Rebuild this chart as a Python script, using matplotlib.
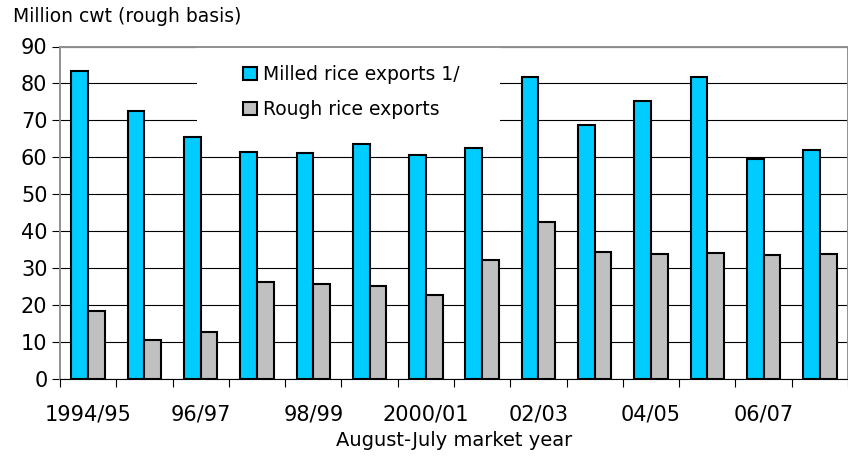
import numpy as np
import matplotlib
matplotlib.use("Agg")
import matplotlib.pyplot as plt
from matplotlib.patches import Rectangle

plt.rcParams['font.family'] = ['DejaVu Sans']

# August-July market years, 1994/95 through 2007/08
years = ['1994/95', '95/96', '96/97', '97/98', '98/99', '99/00', '2000/01',
         '01/02', '02/03', '03/04', '04/05', '05/06', '06/07', '07/08']
milled = [83.4, 72.5, 65.5, 61.5, 61.1, 63.6, 60.5,
          62.4, 81.8, 68.8, 75.2, 81.7, 59.5, 62.0]
rough = [18.5, 10.6, 12.6, 26.2, 25.8, 25.2, 22.7,
         32.1, 42.6, 34.3, 33.8, 34.1, 33.5, 33.9]
shown_labels = ['1994/95', '96/97', '98/99', '2000/01', '02/03', '04/05', '06/07']

W, H = 848, 458
fig = plt.figure(figsize=(W / 100, H / 100), dpi=100)
ax = fig.add_axes([60 / W, 1 - 379 / H, 788 / W, (379 - 46.5) / H])

x = np.arange(len(years))
bw = 0.296
ax.bar(x - bw / 2, milled, bw, color='#00CCFF', edgecolor='black', linewidth=1.5,
       label='Milled rice exports 1/', zorder=3)
ax.bar(x + bw / 2, rough, bw, color='#C0C0C0', edgecolor='black', linewidth=1.5,
       label='Rough rice exports', zorder=3)

ax.set_xlim(-0.5, len(years) - 0.5)
ax.set_ylim(0, 90)
ax.set_yticks(np.arange(0, 91, 10))
ax.yaxis.grid(True, color='black', linewidth=0.8)
ax.set_axisbelow(True)

# boundaries between years get the tick marks, every other year gets a label
ax.set_xticks(np.arange(-0.5, len(years), 1))
ax.set_xticklabels([])
ax.set_xticks([years.index(s) for s in shown_labels], minor=True)
ax.set_xticklabels(shown_labels, minor=True)
ax.tick_params(axis='x', which='major', length=6, width=0.8, direction='out')
ax.tick_params(axis='x', which='minor', length=0, pad=18, labelsize=15)
ax.tick_params(axis='y', length=6, width=0.8, direction='out', labelsize=15, pad=3)

for side in ('left', 'top', 'right'):
    ax.spines[side].set_color('#909090')
    ax.spines[side].set_linewidth(1.4)
ax.spines['bottom'].set_color('black')
ax.spines['bottom'].set_linewidth(0.8)

ax.set_xlabel('August-July market year', fontsize=14, labelpad=5)
fig.text(13 / W, 1 - 16 / H, 'Million cwt (rough basis)', fontsize=13.5, va='center')

# white area behind the legend hides the gridlines there
ax.add_patch(Rectangle((197 / W, 1 - 135 / H), 303 / W, 88 / H,
                       transform=fig.transFigure, facecolor='white',
                       edgecolor='none', zorder=1))

leg = ax.legend(loc='upper left', bbox_to_anchor=(243 / W, 1 - 65 / H),
                bbox_transform=fig.transFigure, fontsize=13.5, frameon=False,
                handlelength=0.75, handleheight=0.75, handletextpad=0.3,
                labelspacing=0.85, borderpad=0, borderaxespad=0)

fig.savefig('out.png', dpi=100)
